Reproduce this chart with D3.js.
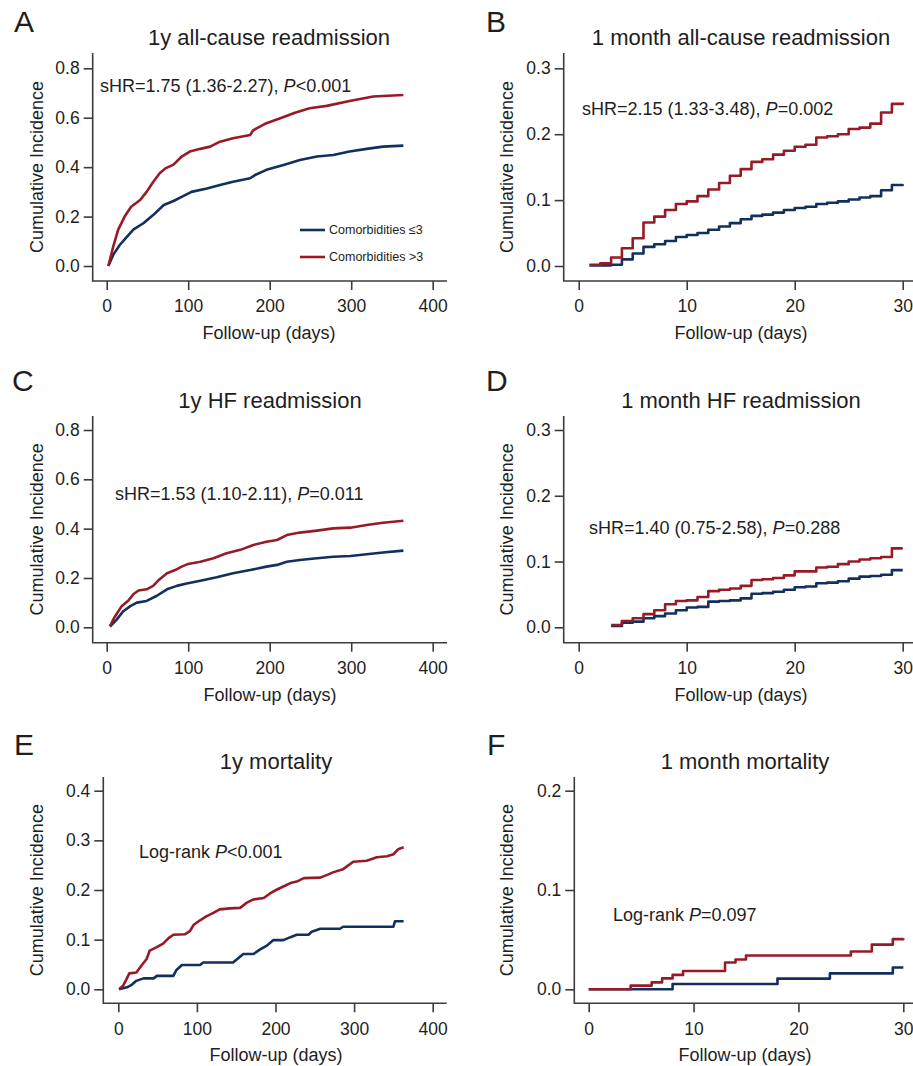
<!DOCTYPE html>
<html>
<head>
<meta charset="utf-8">
<script src="https://cdn.jsdelivr.net/npm/d3@7"></script>
<style>
body{margin:0;background:#fff;}
svg text{font-family:"Liberation Sans",Arial,sans-serif;fill:#1e1e1e;}
</style>
</head>
<body>
<div id="chart"></div>
<script>

// ---- values ----
var groupNames = ["Comorbidities \u22643", "Comorbidities >3"];

var xTicksYear = [0, 100, 200, 300, 400];
var xTicksMonth = [0, 10, 20, 30];
var yTicksA = [0, 0.2, 0.4, 0.6, 0.8];
var yTicksB = [0, 0.1, 0.2, 0.3];
var yTicksE = [0, 0.1, 0.2, 0.3, 0.4];
var yTicksF = [0, 0.1, 0.2];

// A: 1y all-cause readmission
var aLowDays  = [2, 8, 16, 25, 33, 45, 57, 70, 82, 92, 104, 123, 139, 155, 176, 182, 196, 217, 237, 258, 278, 298, 319, 339, 364];
var aLowVals  = [0, 0.045, 0.085, 0.119, 0.148, 0.173, 0.206, 0.247, 0.263, 0.28, 0.30, 0.314, 0.328, 0.341, 0.355, 0.368, 0.389, 0.409, 0.429, 0.443, 0.449, 0.463, 0.474, 0.483, 0.487];
var aHighDays = [2, 8, 14, 22, 30, 41, 49, 57, 65, 72, 82, 92, 102, 115, 127, 139, 155, 176, 180, 196, 213, 231, 249, 270, 298, 327, 364];
var aHighVals = [0, 0.078, 0.146, 0.2, 0.24, 0.267, 0.30, 0.34, 0.375, 0.395, 0.41, 0.443, 0.463, 0.474, 0.483, 0.503, 0.517, 0.53, 0.55, 0.578, 0.598, 0.62, 0.638, 0.648, 0.668, 0.686, 0.692];

// B: 1 month all-cause readmission (steps)
var bDays     = [1, 2, 3, 4, 5, 6, 7, 8, 9, 10, 11, 12, 13, 14, 15, 16, 17, 18, 19, 20, 21, 22, 23, 24, 25, 26, 27, 28, 29, 30];
var bLowVals  = [0.001, 0.001, 0.002, 0.010, 0.019, 0.029, 0.033, 0.038, 0.044, 0.047, 0.050, 0.055, 0.060, 0.065, 0.071, 0.076, 0.078, 0.081, 0.085, 0.088, 0.090, 0.094, 0.096, 0.098, 0.101, 0.104, 0.106, 0.115, 0.123, 0.124];
var bHighVals = [0.002, 0.004, 0.013, 0.027, 0.042, 0.066, 0.075, 0.085, 0.094, 0.098, 0.106, 0.116, 0.126, 0.137, 0.147, 0.158, 0.162, 0.169, 0.175, 0.181, 0.184, 0.195, 0.197, 0.200, 0.208, 0.210, 0.216, 0.233, 0.246, 0.248];

// C: 1y HF readmission
var cLowDays  = [4, 12, 20, 29, 37, 49, 61, 74, 86, 98, 115, 135, 155, 176, 196, 209, 221, 237, 258, 278, 299, 319, 339, 364];
var cLowVals  = [0.003, 0.03, 0.064, 0.086, 0.1, 0.107, 0.127, 0.154, 0.168, 0.178, 0.189, 0.203, 0.219, 0.232, 0.246, 0.253, 0.266, 0.273, 0.28, 0.286, 0.289, 0.296, 0.303, 0.311];
var cHighDays = [4, 10, 18, 27, 33, 39, 49, 57, 65, 74, 84, 92, 100, 115, 131, 147, 164, 180, 196, 209, 221, 237, 258, 278, 299, 319, 339, 364];
var cHighVals = [0.005, 0.043, 0.084, 0.11, 0.135, 0.149, 0.154, 0.168, 0.195, 0.219, 0.232, 0.246, 0.257, 0.266, 0.28, 0.30, 0.314, 0.334, 0.347, 0.354, 0.374, 0.384, 0.392, 0.401, 0.404, 0.415, 0.424, 0.432];

// D: 1 month HF readmission (steps)
var dDays     = [3, 4, 5, 6, 7, 8, 9, 10, 11, 12, 13, 14, 15, 16, 17, 18, 19, 20, 21, 22, 23, 24, 25, 26, 27, 28, 29, 30];
var dLowVals  = [0.002, 0.007, 0.0086, 0.0137, 0.017, 0.021, 0.026, 0.030, 0.031, 0.039, 0.040, 0.041, 0.044, 0.051, 0.052, 0.054, 0.057, 0.061, 0.062, 0.067, 0.068, 0.070, 0.074, 0.077, 0.078, 0.080, 0.087, 0.087];
var dHighVals = [0.0035, 0.0096, 0.0137, 0.020, 0.026, 0.035, 0.040, 0.041, 0.046, 0.055, 0.057, 0.059, 0.063, 0.072, 0.073, 0.075, 0.079, 0.085, 0.085, 0.091, 0.092, 0.096, 0.100, 0.103, 0.105, 0.107, 0.120, 0.120];

// E: 1y mortality
var eLowDays  = [1, 11, 17, 23, 32, 45, 49, 70, 74, 81, 104, 108, 146, 153, 159, 172, 180, 189, 197, 210, 219, 227, 242, 246, 257, 282, 286, 350, 352, 363];
var eLowVals  = [0, 0.004, 0.009, 0.017, 0.022, 0.022, 0.027, 0.027, 0.039, 0.049, 0.049, 0.054, 0.054, 0.063, 0.071, 0.071, 0.08, 0.088, 0.099, 0.099, 0.105, 0.11, 0.11, 0.116, 0.122, 0.122, 0.126, 0.126, 0.137, 0.137];
var eHighDays = [1, 6, 10, 14, 23, 30, 36, 40, 49, 57, 64, 70, 85, 91, 96, 104, 112, 121, 129, 142, 155, 163, 172, 185, 193, 202, 210, 219, 227, 236, 257, 265, 274, 286, 299, 316, 329, 342, 350, 356, 363];
var eHighVals = [0, 0.007, 0.019, 0.032, 0.034, 0.049, 0.061, 0.078, 0.085, 0.092, 0.103, 0.11, 0.111, 0.117, 0.13, 0.139, 0.147, 0.154, 0.161, 0.163, 0.164, 0.174, 0.181, 0.184, 0.193, 0.201, 0.207, 0.214, 0.217, 0.224, 0.225, 0.23, 0.236, 0.242, 0.257, 0.259, 0.266, 0.268, 0.272, 0.282, 0.286];

// F: 1 month mortality (steps)
var fLowDays  = [0, 8, 18, 23, 29, 30];
var fLowVals  = [0, 0.0054, 0.0108, 0.016, 0.022, 0.022];
var fHighDays = [0, 4, 6, 7, 8, 9, 13, 14, 15, 25, 27, 29, 30];
var fHighVals = [0, 0.0037, 0.007, 0.011, 0.0145, 0.0185, 0.027, 0.030, 0.034, 0.038, 0.045, 0.0505, 0.0515];

var titles = ["1y all-cause readmission", "1 month all-cause readmission", "1y HF readmission",
              "1 month HF readmission", "1y mortality", "1 month mortality"];
var notePre  = ["sHR=1.75 (1.36-2.27), ", "sHR=2.15 (1.33-3.48), ", "sHR=1.53 (1.10-2.11), ",
                "sHR=1.40 (0.75-2.58), ", "Log-rank ", "Log-rank "];
var notePost = ["<0.001", "=0.002", "=0.011", "=0.288", "<0.001", "=0.097"];

// ---- layout ----
var W = 913, H = 1066;
var colLow = "#12305e", colHigh = "#971b26", axisCol = "#3c3c3c";

function zip(days, vals){
  var out = [];
  for (var i = 0 ; i < days.length ; i++){
    out.push({day: days[i], value: vals[i]});
  }
  return out;
}

var panels = [
  {letter:"A", xMax:400, yMax:0.8, xTicks:xTicksYear, yTicks:yTicksA, step:false,
   low:zip(aLowDays, aLowVals), high:zip(aHighDays, aHighVals),
   x0:106.7, x1:432.7, y0:266, y1:68.3, axisX:92.7, axisY:281, top:53, right:447,
   midX:269, labX:43, letterX:14, letterY:32, noteX:100, noteY:92, legend:true},
  {letter:"B", xMax:30, yMax:0.3, xTicks:xTicksMonth, yTicks:yTicksB, step:true,
   low:zip(bDays, bLowVals), high:zip(bDays, bHighVals),
   x0:578.7, x1:902.7, y0:266, y1:68.3, axisX:563.7, axisY:281, top:53, right:913,
   midX:741, labX:513, letterX:486, letterY:32, noteX:582, noteY:115},
  {letter:"C", xMax:400, yMax:0.8, xTicks:xTicksYear, yTicks:yTicksA, step:false,
   low:zip(cLowDays, cLowVals), high:zip(cHighDays, cHighVals),
   x0:106.7, x1:432.7, y0:627.3, y1:430, axisX:92.7, axisY:642.7, top:416, right:447,
   midX:270, labX:43, letterX:12, letterY:391, noteX:115, noteY:500},
  {letter:"D", xMax:30, yMax:0.3, xTicks:xTicksMonth, yTicks:yTicksB, step:true,
   low:zip(dDays, dLowVals), high:zip(dDays, dHighVals),
   x0:578.7, x1:902.7, y0:627.3, y1:430, axisX:563.7, axisY:642.7, top:416, right:913,
   midX:741, labX:513, letterX:486, letterY:391, noteX:589, noteY:534},
  {letter:"E", xMax:400, yMax:0.4, xTicks:xTicksYear, yTicks:yTicksE, step:false,
   low:zip(eLowDays, eLowVals), high:zip(eHighDays, eHighVals),
   x0:118.3, x1:432.7, y0:989.3, y1:790.7, axisX:103.3, axisY:1003.3, top:777, right:446.7,
   midX:276, labX:43, letterX:14, letterY:755, noteX:139, noteY:858},
  {letter:"F", xMax:30, yMax:0.2, xTicks:xTicksMonth, yTicks:yTicksF, step:true,
   low:zip(fLowDays, fLowVals), high:zip(fHighDays, fHighVals),
   x0:588.7, x1:903.3, y0:989.3, y1:790.7, axisX:574.3, axisY:1003.3, top:777, right:913,
   midX:745, labX:513, letterX:487, letterY:755, noteX:613, noteY:921}
];

var svg = d3.select("#chart").append("svg")
  .attr("width", W)
  .attr("height", H);

panels.forEach(function(p, idx){
  var g = svg.append("g");

  var x = d3.scaleLinear().domain([0, p.xMax]).range([p.x0, p.x1]);
  var y = d3.scaleLinear().domain([0, p.yMax]).range([p.y0, p.y1]);

  // axis lines (stata style L, offset from the data area)
  g.append("path")
    .attr("d", "M" + p.axisX + "," + p.top + "V" + p.axisY + "H" + p.right)
    .attr("fill", "none")
    .attr("stroke", axisCol)
    .attr("stroke-width", 1.6);

  var yAxis = g.append("g")
    .attr("transform", "translate(" + p.axisX + ",0)")
    .call(d3.axisLeft(y).tickValues(p.yTicks).tickFormat(d3.format(".1f")).tickSize(9).tickPadding(4));
  yAxis.select(".domain").remove();

  var xAxis = g.append("g")
    .attr("transform", "translate(0," + p.axisY + ")")
    .call(d3.axisBottom(x).tickValues(p.xTicks).tickFormat(d3.format("d")).tickSize(9).tickPadding(10));
  xAxis.select(".domain").remove();

  g.selectAll(".tick line").attr("stroke", axisCol).attr("stroke-width", 1.6);
  g.selectAll(".tick text").style("font-size", "17.5px").attr("fill", "#1e1e1e");

  // axis titles
  var midY = (p.top + p.axisY) / 2;
  g.append("text")
    .attr("transform", "translate(" + p.labX + "," + midY + ") rotate(-90)")
    .attr("text-anchor", "middle")
    .style("font-size", "18px")
    .text("Cumulative Incidence");

  g.append("text")
    .attr("x", p.midX)
    .attr("y", p.axisY + 58)
    .attr("text-anchor", "middle")
    .style("font-size", "18px")
    .text("Follow-up (days)");

  // title and panel letter
  g.append("text")
    .attr("x", p.midX)
    .attr("y", p.top - 8)
    .attr("text-anchor", "middle")
    .style("font-size", "22px")
    .text(titles[idx]);

  g.append("text")
    .attr("x", p.letterX)
    .attr("y", p.letterY)
    .style("font-size", "30px")
    .text(p.letter);

  // annotation
  var note = g.append("text")
    .attr("x", p.noteX)
    .attr("y", p.noteY)
    .style("font-size", "18px")
    .style("white-space", "pre");
  note.append("tspan").text(notePre[idx]);
  note.append("tspan").style("font-style", "italic").text("P");
  note.append("tspan").text(notePost[idx]);

  // curves
  var line = d3.line()
    .x(function(d){ return x(d.day); })
    .y(function(d){ return y(d.value); })
    .curve(p.step ? d3.curveStepAfter : d3.curveLinear);

  [[p.low, colLow], [p.high, colHigh]].forEach(function(s){
    g.append("path")
      .datum(s[0])
      .attr("fill", "none")
      .attr("stroke", s[1])
      .attr("stroke-width", 2.6)
      .attr("stroke-linejoin", "round")
      .attr("d", line);
  });

  if (p.legend){
    var lg = g.append("g").attr("transform", "translate(300,230)");
    [colLow, colHigh].forEach(function(c, i){
      lg.append("line")
        .attr("x1", 0).attr("x2", 25)
        .attr("y1", i * 27).attr("y2", i * 27)
        .attr("stroke", c)
        .attr("stroke-width", 2.6);
      lg.append("text")
        .attr("x", 29)
        .attr("y", i * 27 + 4)
        .style("font-size", "12.5px")
        .text(groupNames[i]);
    });
  }
});

</script>
</body>
</html>
